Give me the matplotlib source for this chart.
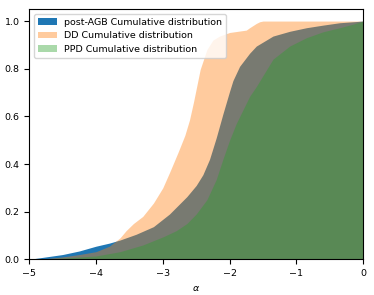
import numpy as np
import matplotlib
matplotlib.use("Agg")
import matplotlib.pyplot as plt

## cumulative distributions
x_agb = [-5, -4.75, -4.5, -4.25, -4, -3.8, -3.64, -3.4, -3.14, -2.9, -2.64, -2.5, -2.4,
         -2.3, -2.2, -2.1, -2.0, -1.95, -1.85, -1.7, -1.6, -1.35, -1.1, -0.85, -0.6, -0.35, 0]
y_agb = [0, 0.01, 0.02, 0.035, 0.055, 0.068, 0.081, 0.105, 0.137, 0.19, 0.263, 0.31, 0.355,
         0.42, 0.51, 0.61, 0.705, 0.75, 0.81, 0.865, 0.895, 0.937, 0.957, 0.972, 0.983, 0.993, 1.0]

x_dd = [-5, -4.75, -4.5, -4.25, -4, -3.8, -3.64, -3.55, -3.44, -3.3, -3.14, -3.0, -2.89,
        -2.77, -2.67, -2.6, -2.54, -2.44, -2.34, -2.25, -2.15, -2.0, -1.85, -1.75, -1.7,
        -1.6, -1.55, -1.5, 0]
y_dd = [0, 0.003, 0.01, 0.02, 0.032, 0.055, 0.09, 0.12, 0.15, 0.18, 0.236, 0.30, 0.37,
        0.45, 0.52, 0.585, 0.66, 0.797, 0.88, 0.92, 0.937, 0.952, 0.958, 0.962, 0.972,
        0.99, 0.997, 1.0, 1.0]

x_ppd = [-5, -4.5, -4, -3.64, -3.3, -2.99, -2.8, -2.64, -2.5, -2.34, -2.2, -2.1, -2.0, -1.9,
         -1.7, -1.6, -1.35, -1.1, -0.85, -0.6, -0.35, -0.15, 0]
y_ppd = [0, 0.005, 0.014, 0.032, 0.06, 0.095, 0.12, 0.15, 0.19, 0.25, 0.335, 0.42, 0.50, 0.57,
         0.684, 0.725, 0.84, 0.895, 0.93, 0.955, 0.972, 0.987, 1.0]

plt.rcParams['font.size'] = 6.8
fig = plt.figure(figsize=(3.74, 2.95), dpi=100)
ax = fig.add_axes([0.078, 0.121, 0.893, 0.848])

ax.fill_between(x_agb, y_agb, color="C0", lw=0, label="post-AGB Cumulative distribution")
ax.fill_between(x_dd, y_dd, color="C1", alpha=0.4, lw=0, label="DD Cumulative distribution")
ax.fill_between(x_ppd, y_ppd, color="C2", alpha=0.4, lw=0, label="PPD Cumulative distribution")

ax.set_xlim(-5, 0)
ax.set_ylim(0, 1.05)
ax.set_xlabel(r"$\alpha$")
ax.legend(loc="upper left")

plt.savefig("out.png", dpi=100)
